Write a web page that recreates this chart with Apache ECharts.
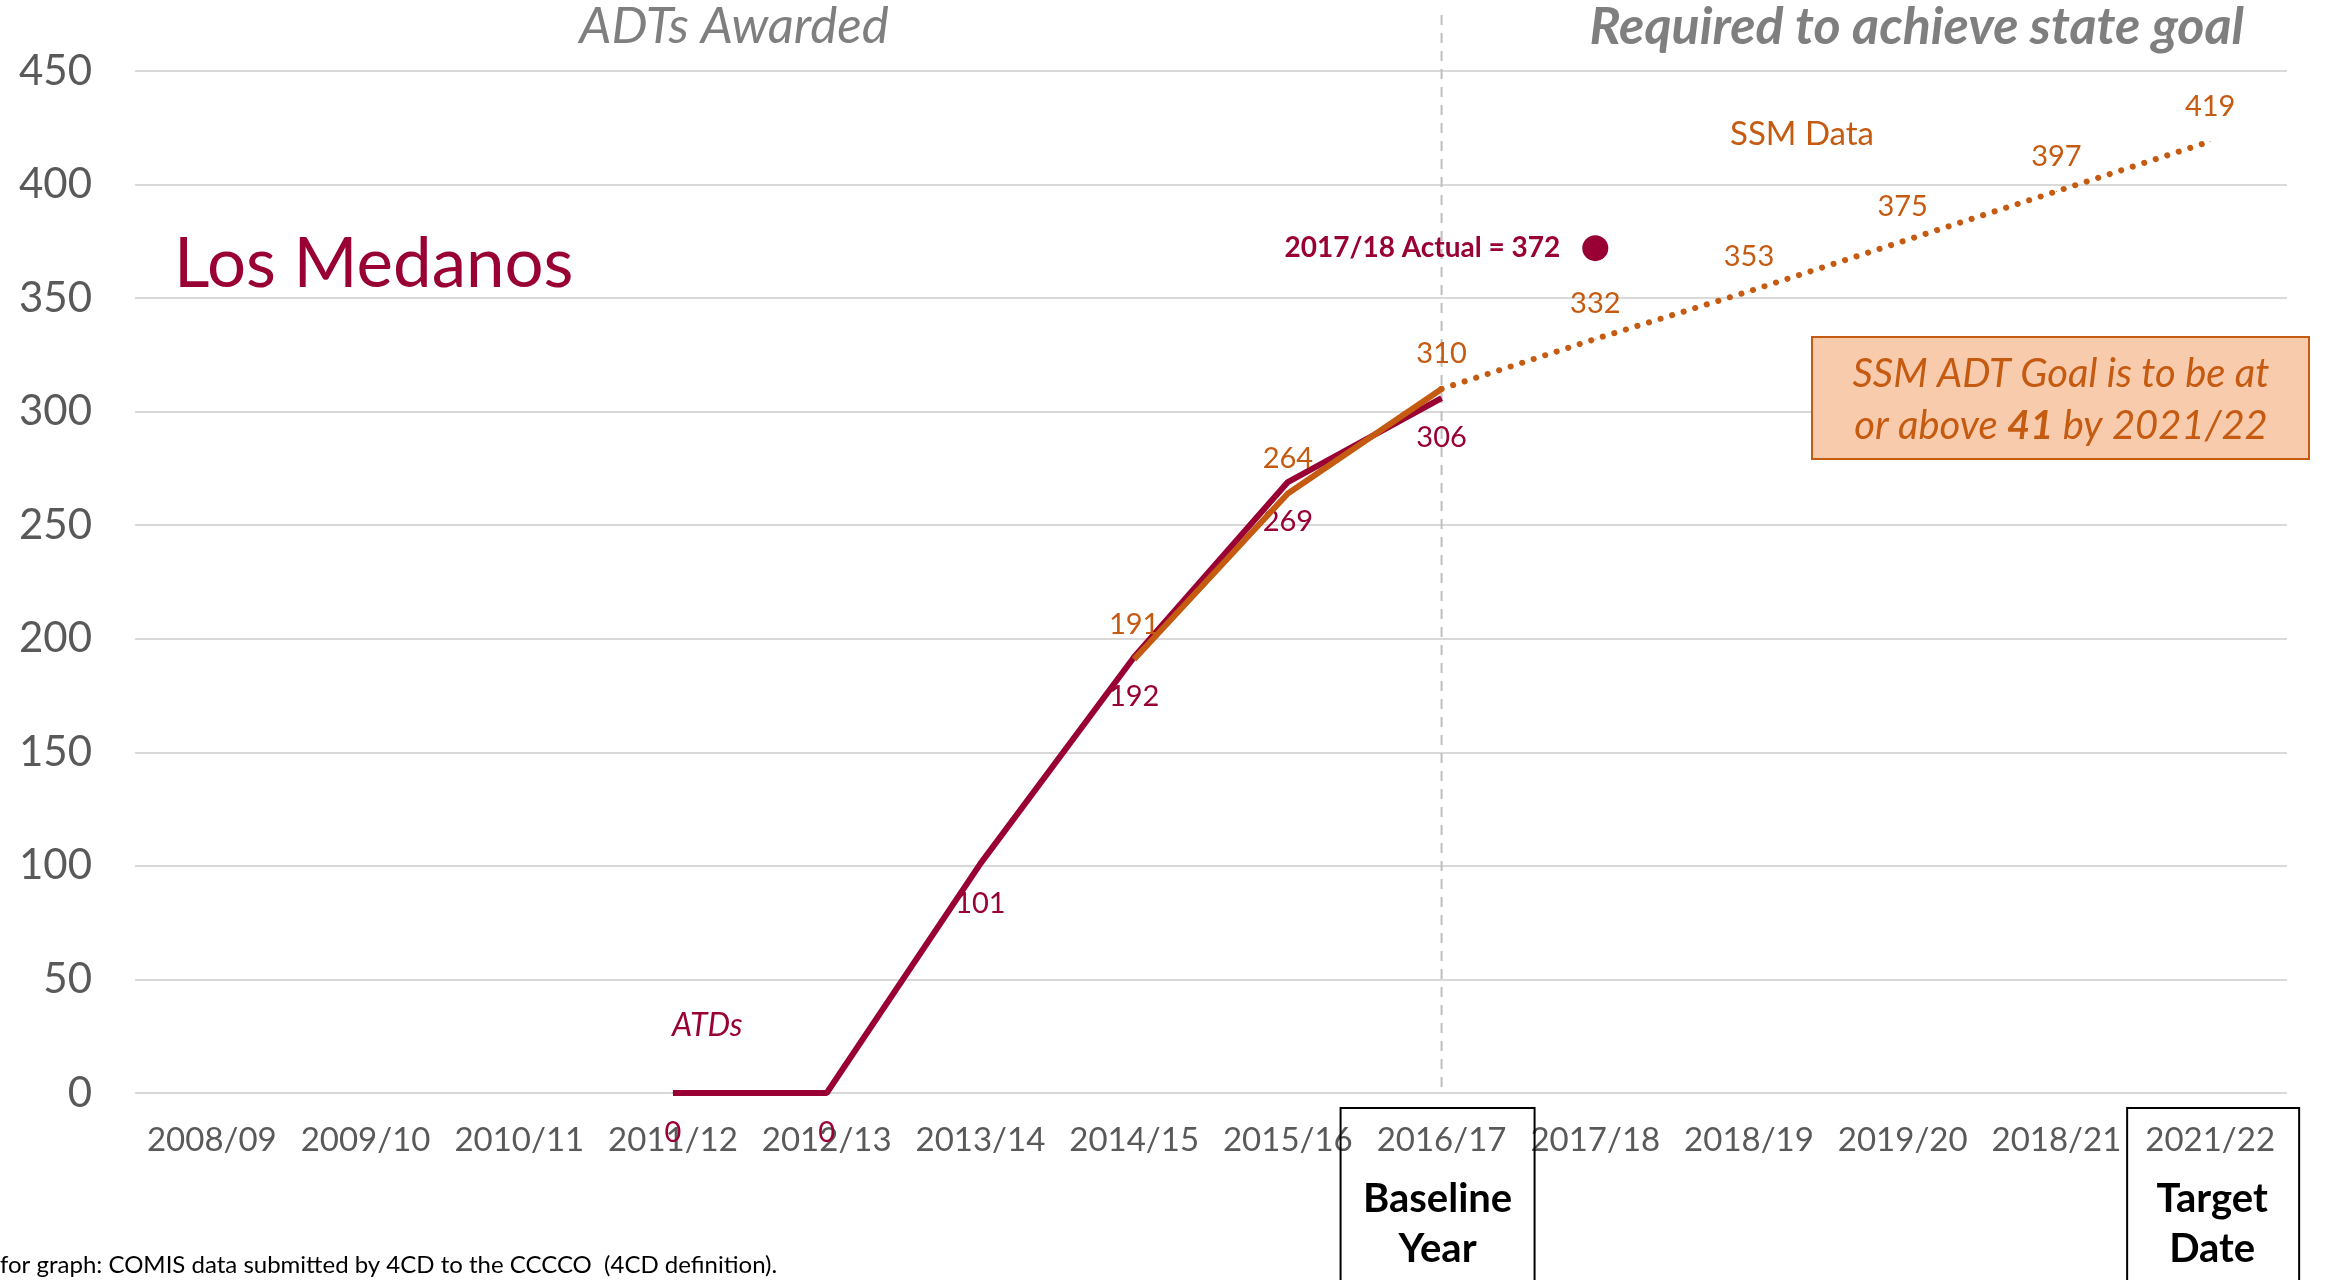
<!DOCTYPE html>
<html>
<head>
<meta charset="utf-8">
<script src="https://cdn.jsdelivr.net/npm/echarts@6/dist/echarts.min.js"></script>
<style>
  html, body { margin: 0; padding: 0; background: #fff; }
  #main { width: 2326px; height: 1280px; }
</style>
</head>
<body>
<div id="main"></div>
<script>
var categories = ['2008/09', '2009/10', '2010/11', '2011/12', '2012/13', '2013/14', '2014/15',
  '2015/16', '2016/17', '2017/18', '2018/19', '2019/20', '2018/21', '2021/22'];
// ADTs awarded (maroon)
var adtsAwarded = [null, null, null, 0, 0, 101, 192, 269, 306, null, null, null, null, null];
// SSM data (solid orange)
var ssmData = [null, null, null, null, null, null, 191, 264, 310, null, null, null, null, null];
// required to reach the state goal (dotted orange)
var ssmProjected = [null, null, null, null, null, null, null, null, 310, 332, 353, 375, 397, 419];
var actualCategory = '2017/18';
var actualValue = 372;

var maroon = '#990033';
var orange = '#C55A11';
var font = 'Lato';

var dom = document.getElementById('main');
var myChart = echarts.init(dom, null, { renderer: 'canvas' });

var option = {
  animation: false,
  textStyle: { fontFamily: font },
  grid: { left: 135, right: 39, top: 71, bottom: 187 },
  xAxis: {
    type: 'category',
    data: categories,
    boundaryGap: true,
    axisLine: { show: false },
    axisTick: { show: false },
    axisLabel: { color: '#595959', fontSize: 33, margin: 31, interval: 0 }
  },
  yAxis: {
    type: 'value',
    min: 0,
    max: 450,
    interval: 50,
    axisLine: { show: false },
    axisTick: { show: false },
    axisLabel: { color: '#595959', fontSize: 42, margin: 43 },
    splitLine: { lineStyle: { color: '#D9D9D9', width: 2 } }
  },
  series: [
    {
      name: 'ATDs',
      type: 'line',
      data: adtsAwarded,
      symbol: 'circle',
      symbolSize: 1,
      itemStyle: { color: maroon },
      lineStyle: { color: maroon, width: 6 },
      label: { show: true, position: 'bottom', distance: 25, color: maroon, fontSize: 29 },
      z: 3
    },
    {
      name: 'SSM Data',
      type: 'line',
      data: ssmData,
      symbol: 'circle',
      symbolSize: 1,
      itemStyle: { color: orange },
      lineStyle: { color: orange, width: 6 },
      label: { show: true, position: 'top', distance: 20, color: orange, fontSize: 29 },
      z: 4
    },
    {
      name: 'Required',
      type: 'line',
      data: ssmProjected.map(function (v, i) {
        return i === 8 ? { value: v, label: { show: false } } : v;
      }),
      symbol: 'circle',
      symbolSize: 1,
      itemStyle: { color: orange },
      lineStyle: { color: orange, width: 6, type: [0.1, 12], cap: 'round' },
      label: { show: true, position: 'top', distance: 20, color: orange, fontSize: 29 },
      z: 4
    },
    {
      name: 'Actual',
      type: 'scatter',
      data: [[actualCategory, actualValue]],
      symbolSize: 26,
      itemStyle: { color: maroon, opacity: 1 },
      label: {
        show: true,
        position: 'left',
        distance: 22,
        color: maroon,
        fontSize: 28,
        fontWeight: 'bold',
        formatter: actualCategory + ' Actual = ' + actualValue
      },
      z: 5
    }
  ]
};

myChart.setOption(option);

// annotations placed from the axis positions
var xBase = myChart.convertToPixel({ xAxisIndex: 0 }, '2016/17');
var xTarget = myChart.convertToPixel({ xAxisIndex: 0 }, '2021/22');
var yZero = myChart.convertToPixel({ yAxisIndex: 0 }, 0);

myChart.setOption({
  graphic: [
    {
      type: 'line', z: 1,
      shape: { x1: xBase, y1: 15, x2: xBase, y2: yZero },
      style: { stroke: '#BFBFBF', lineWidth: 2, lineDash: [10, 8] }
    },
    {
      type: 'text',
      style: { text: 'ADTs Awarded', x: 734, y: 27, textAlign: 'center', textVerticalAlign: 'middle',
        fontFamily: font, fontSize: 51, fontStyle: 'italic', fill: '#7F7F7F' }
    },
    {
      type: 'text',
      style: { text: 'Required to achieve state goal', x: 2244, y: 27, textAlign: 'right', textVerticalAlign: 'middle',
        fontFamily: font, fontSize: 52, fontStyle: 'italic', fontWeight: 'bold', fill: '#7F7F7F' }
    },
    {
      type: 'text',
      style: { text: 'Los Medanos', x: 174, y: 265, textAlign: 'left', textVerticalAlign: 'middle',
        fontFamily: font, fontSize: 69, fill: maroon }
    },
    {
      type: 'text',
      style: { text: 'SSM Data', x: 1802, y: 134, textAlign: 'center', textVerticalAlign: 'middle',
        fontFamily: font, fontSize: 33, fill: orange }
    },
    {
      type: 'text',
      style: { text: 'ATDs', x: 672, y: 1026, textAlign: 'left', textVerticalAlign: 'middle',
        fontFamily: font, fontSize: 32, fontStyle: 'italic', fill: maroon }
    },
    {
      type: 'rect', z: 10,
      shape: { x: 1812, y: 337, width: 497, height: 122 },
      style: { fill: '#F8CBAD', stroke: orange, lineWidth: 2 }
    },
    {
      type: 'text', z: 11,
      style: { text: 'SSM ADT Goal is to be at', x: 2061, y: 374, textAlign: 'center', textVerticalAlign: 'middle',
        fontFamily: font, fontSize: 40, fontStyle: 'italic', fill: orange }
    },
    {
      type: 'text', z: 11,
      style: {
        text: '{n|or above }{b|41}{n| by 2021/22}', x: 2061, y: 426, textAlign: 'center', textVerticalAlign: 'middle',
        fill: orange,
        rich: {
          n: { fontFamily: font, fontSize: 40, fontStyle: 'italic', fill: orange, color: orange },
          b: { fontFamily: font, fontSize: 40, fontStyle: 'italic', fontWeight: 'bold', fill: orange, color: orange }
        }
      }
    },
    {
      type: 'rect', z: 10,
      shape: { x: xBase - 101, y: 1108, width: 194, height: 190 },
      style: { fill: 'none', stroke: '#000', lineWidth: 2 }
    },
    {
      type: 'text', z: 11,
      style: { text: 'Baseline\nYear', x: xBase - 4, y: 1224, textAlign: 'center', textVerticalAlign: 'middle',
        fontFamily: font, fontSize: 40, fontWeight: 'bold', lineHeight: 50, fill: '#000' }
    },
    {
      type: 'rect', z: 10,
      shape: { x: xTarget - 83, y: 1108, width: 172, height: 190 },
      style: { fill: 'none', stroke: '#000', lineWidth: 2 }
    },
    {
      type: 'text', z: 11,
      style: { text: 'Target\nDate', x: xTarget + 2, y: 1224, textAlign: 'center', textVerticalAlign: 'middle',
        fontFamily: font, fontSize: 40, fontWeight: 'bold', lineHeight: 50, fill: '#000' }
    },
    {
      type: 'text',
      style: { text: 'for graph: COMIS data submitted by 4CD to the CCCCO  (4CD definition).', x: 0, y: 1265,
        textAlign: 'left', textVerticalAlign: 'middle', fontFamily: font, fontSize: 24, fill: '#000' }
    }
  ]
});

window.addEventListener('resize', myChart.resize);
</script>
</body>
</html>
